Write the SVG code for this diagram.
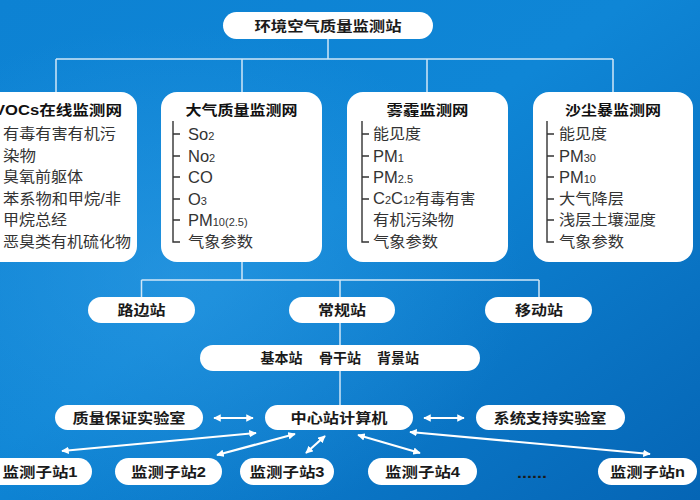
<svg xmlns="http://www.w3.org/2000/svg" width="700" height="500" viewBox="0 0 700 500">
<defs>
<linearGradient id="bg" x1="0" y1="0" x2="1" y2="1">
<stop offset="0" stop-color="#0d82d3"/>
<stop offset="0.45" stop-color="#0f86d6"/>
<stop offset="1" stop-color="#0565b5"/>
</linearGradient>
<radialGradient id="glow" cx="0.25" cy="0.55" r="0.5">
<stop offset="0" stop-color="#3aa2e8" stop-opacity="0.45"/>
<stop offset="1" stop-color="#3aa2e8" stop-opacity="0"/>
</radialGradient>
<marker id="ah" viewBox="0 0 10 10" refX="9" refY="5" markerWidth="3.4" markerHeight="3.4" orient="auto-start-reverse" markerUnits="strokeWidth">
<path d="M0,0 L10,5 L0,10 z" fill="#ffffff"/>
</marker>
</defs>
<style>
.pill{fill:#ffffff;}
.panel{fill:#ffffff;}
.ln{stroke:#cfe6f7;stroke-width:1.5;fill:none;}
.br{stroke:#333333;stroke-width:1.4;fill:none;}
.arr{stroke:#ffffff;stroke-width:2.2;fill:none;marker-start:url(#ah);marker-end:url(#ah);}
.t{font-family:"Liberation Sans","Noto Sans CJK SC",sans-serif;font-weight:bold;font-size:14px;fill:#1a1a1a;text-anchor:middle;}
.h{font-family:"Liberation Sans","Noto Sans CJK SC",sans-serif;font-weight:bold;font-size:14px;fill:#111111;text-anchor:middle;}
.i{font-family:"Liberation Sans","Noto Sans CJK SC",sans-serif;font-size:15px;fill:#333333;}
.l{font-size:16.5px;}
.s{font-size:11px;}
</style>
<rect x="0" y="0" width="700" height="500" fill="url(#bg)"/>
<rect x="0" y="0" width="700" height="500" fill="url(#glow)"/>

<g id="connectors">
<path class="ln" d="M328,38 V59 M56,59 H613 M56,59 V92 M242,59 V92 M427,59 V92 M613,59 V92"/>
<path class="ln" d="M242,262 V280 M141.5,280 H539 M141.5,280 V297 M340,280 V297 M539,280 V297"/>
<path class="ln" d="M340,323 V345 M340,370 V405"/>
<line class="arr" x1="214" y1="418" x2="253" y2="418"/>
<line class="arr" x1="424" y1="418" x2="464" y2="418"/>
<line class="arr" x1="256" y1="433" x2="62" y2="451"/>
<line class="arr" x1="295" y1="434" x2="217" y2="455"/>
<line class="arr" x1="325" y1="436" x2="306" y2="453"/>
<line class="arr" x1="358" y1="435" x2="420" y2="453"/>
<line class="arr" x1="410" y1="432" x2="650" y2="454"/>
</g>

<g id="top">
<rect class="pill" x="223" y="12" width="210" height="27" rx="13.5"/>
<text class="t" x="328" y="31" textLength="147" lengthAdjust="spacingAndGlyphs">环境空气质量监测站</text>
</g>

<g id="panel-vocs">
<rect class="panel" x="-25" y="92" width="162" height="170" rx="16"/>
<text class="h" x="58" y="115" textLength="128" lengthAdjust="spacingAndGlyphs">VOCs在线监测网</text>
<text class="i" x="3" y="139" textLength="113" lengthAdjust="spacingAndGlyphs">有毒有害有机污</text>
<text class="i" x="3" y="161" textLength="33" lengthAdjust="spacingAndGlyphs">染物</text>
<text class="i" x="3" y="182" textLength="80" lengthAdjust="spacingAndGlyphs">臭氧前躯体</text>
<text class="i" x="3" y="204" textLength="118" lengthAdjust="spacingAndGlyphs">苯系物和甲烷/非</text>
<text class="i" x="3" y="225" textLength="64" lengthAdjust="spacingAndGlyphs">甲烷总经</text>
<text class="i" x="3" y="247" textLength="128" lengthAdjust="spacingAndGlyphs">恶臭类有机硫化物</text>
</g>

<g id="panel-air">
<rect class="panel" x="161" y="92" width="161" height="170" rx="16"/>
<text class="h" x="241.5" y="115" textLength="112" lengthAdjust="spacingAndGlyphs">大气质量监测网</text>
<path class="br" d="M173,121 V242 H180 M173,134 H180 M173,156 H180 M173,177 H180 M173,199 H180 M173,220 H180"/>
<text class="i l" x="188" y="140">So<tspan class="s">2</tspan></text>
<text class="i l" x="188" y="162">No<tspan class="s">2</tspan></text>
<text class="i l" x="188" y="183">CO</text>
<text class="i l" x="188" y="205">O<tspan class="s">3</tspan></text>
<text class="i l" x="188" y="226">PM<tspan class="s">10(2.5)</tspan></text>
<text class="i" x="188" y="247" textLength="65" lengthAdjust="spacingAndGlyphs">气象参数</text>
</g>

<g id="panel-haze">
<rect class="panel" x="347" y="92" width="161" height="170" rx="16"/>
<text class="h" x="427.5" y="115" textLength="82" lengthAdjust="spacingAndGlyphs">雾霾监测网</text>
<path class="br" d="M362,121 V242 H369 M362,134 H369 M362,156 H369 M362,177 H369 M362,199 H369"/>
<text class="i" x="373" y="139" textLength="48" lengthAdjust="spacingAndGlyphs">能见度</text>
<text class="i l" x="373" y="162">PM<tspan class="s">1</tspan></text>
<text class="i l" x="373" y="183">PM<tspan class="s">2.5</tspan></text>
<text class="i" x="373" y="204"><tspan class="l">C</tspan><tspan class="s">2</tspan><tspan class="l">C</tspan><tspan class="s">12</tspan>有毒有害</text>
<text class="i" x="373" y="225" textLength="81" lengthAdjust="spacingAndGlyphs">有机污染物</text>
<text class="i" x="373" y="247" textLength="65" lengthAdjust="spacingAndGlyphs">气象参数</text>
</g>

<g id="panel-dust">
<rect class="panel" x="533" y="92" width="160" height="170" rx="16"/>
<text class="h" x="613" y="115" textLength="96" lengthAdjust="spacingAndGlyphs">沙尘暴监测网</text>
<path class="br" d="M547,121 V242 H554 M547,134 H554 M547,156 H554 M547,177 H554 M547,199 H554 M547,220 H554"/>
<text class="i" x="559" y="139" textLength="48" lengthAdjust="spacingAndGlyphs">能见度</text>
<text class="i l" x="559" y="162">PM<tspan class="s">30</tspan></text>
<text class="i l" x="559" y="183">PM<tspan class="s">10</tspan></text>
<text class="i" x="559" y="204" textLength="65" lengthAdjust="spacingAndGlyphs">大气降层</text>
<text class="i" x="559" y="225" textLength="97" lengthAdjust="spacingAndGlyphs">浅层土壤湿度</text>
<text class="i" x="559" y="247" textLength="65" lengthAdjust="spacingAndGlyphs">气象参数</text>
</g>

<g id="roadside">
<rect class="pill" x="88" y="297" width="107" height="26" rx="13"/>
<text class="t" x="141.5" y="315" textLength="48" lengthAdjust="spacingAndGlyphs">路边站</text>
</g>
<g id="regular">
<rect class="pill" x="289" y="297" width="106" height="26" rx="13"/>
<text class="t" x="342" y="315" textLength="48" lengthAdjust="spacingAndGlyphs">常规站</text>
</g>
<g id="mobile">
<rect class="pill" x="485" y="297" width="107" height="26" rx="13"/>
<text class="t" x="539" y="315" textLength="48" lengthAdjust="spacingAndGlyphs">移动站</text>
</g>
<g id="basic">
<rect class="pill" x="200" y="345" width="280" height="26" rx="13"/>
<text class="t" x="340" y="363"><tspan x="281.5">基本站</tspan><tspan x="340">骨干站</tspan><tspan x="398">背景站</tspan></text>
</g>

<g id="qa-lab">
<rect class="pill" x="55" y="405" width="148" height="25" rx="12.5"/>
<text class="t" x="129" y="423" textLength="113" lengthAdjust="spacingAndGlyphs">质量保证实验室</text>
</g>
<g id="center">
<rect class="pill" x="265" y="405" width="148" height="25" rx="12.5"/>
<text class="t" x="339" y="423" textLength="97" lengthAdjust="spacingAndGlyphs">中心站计算机</text>
</g>
<g id="sys-lab">
<rect class="pill" x="476" y="405" width="149" height="25" rx="12.5"/>
<text class="t" x="550" y="423" textLength="113" lengthAdjust="spacingAndGlyphs">系统支持实验室</text>
</g>

<g id="sub1">
<rect class="pill" x="-12" y="458" width="104" height="27" rx="13.5"/>
<text class="t" x="40" y="477" textLength="75" lengthAdjust="spacingAndGlyphs">监测子站1</text>
</g>
<g id="sub2">
<rect class="pill" x="115" y="458" width="107" height="27" rx="13.5"/>
<text class="t" x="168.5" y="477" textLength="75" lengthAdjust="spacingAndGlyphs">监测子站2</text>
</g>
<g id="sub3">
<rect class="pill" x="240" y="458" width="94" height="27" rx="13.5"/>
<text class="t" x="287" y="477" textLength="75" lengthAdjust="spacingAndGlyphs">监测子站3</text>
</g>
<g id="sub4">
<rect class="pill" x="368" y="458" width="109" height="27" rx="13.5"/>
<text class="t" x="422.5" y="477" textLength="75" lengthAdjust="spacingAndGlyphs">监测子站4</text>
</g>
<g id="dots">
<text class="t" x="532" y="478" textLength="30" lengthAdjust="spacingAndGlyphs">......</text>
</g>
<g id="subn">
<rect class="pill" x="598" y="458" width="99" height="27" rx="13.5"/>
<text class="t" x="647.5" y="477" textLength="75" lengthAdjust="spacingAndGlyphs">监测子站n</text>
</g>
</svg>
